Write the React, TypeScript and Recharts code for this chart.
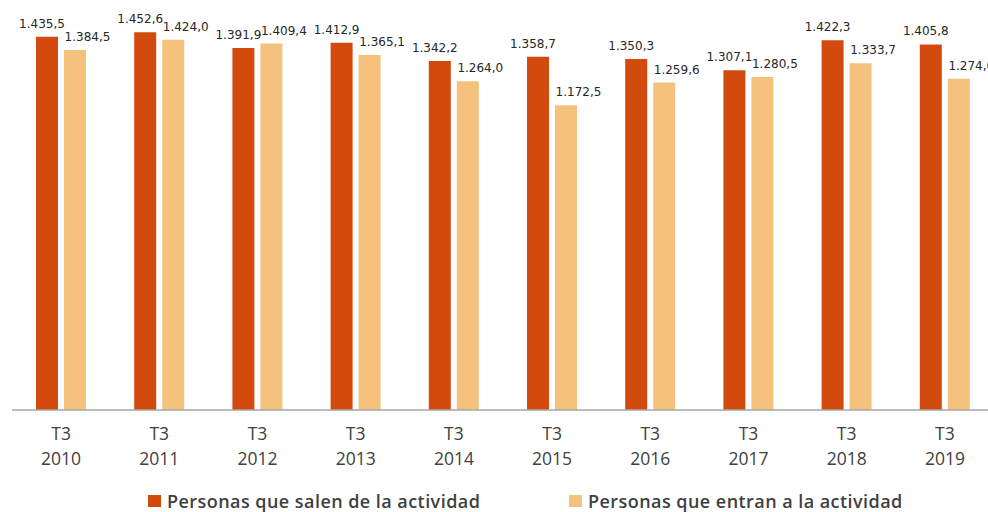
import { BarChart, Bar, XAxis, YAxis, LabelList } from "recharts";

const years = ["2010", "2011", "2012", "2013", "2014", "2015", "2016", "2017", "2018", "2019"];
const quarter = "T3";
const salen = [1435.5, 1452.6, 1391.9, 1412.9, 1342.2, 1358.7, 1350.3, 1307.1, 1422.3, 1405.8];
const entran = [1384.5, 1424.0, 1409.4, 1365.1, 1264.0, 1172.5, 1259.6, 1280.5, 1333.7, 1274.0];

const SALEN_NAME = "Personas que salen de la actividad";
const ENTRAN_NAME = "Personas que entran a la actividad";
const DARK = "#D34A0E";
const LIGHT = "#F4C27D";

const data = years.map((y, i) => ({ year: y, salen: salen[i], entran: entran[i] }));

const fmt = (v: number) =>
    v.toFixed(1).replace(".", ",").replace(/^(\d)(\d{3})/, "$1.$2");

const makeLabel = (shift: number) => (props: any) => {
    const { x, y, width, value } = props;
    return (
        <text
            x={x + width / 2 + shift}
            y={y - 9}
            textAnchor="middle"
            fontFamily="DejaVu Sans"
            fontSize={12}
            fill="#262626"
        >
            {fmt(value)}
        </text>
    );
};

const YearTick = (props: any) => {
    const { x, y, payload } = props;
    return (
        <g>
            <text x={x} y={y + 30} textAnchor="middle" fontFamily="Open Sans" fontSize={17.5} fill="#404040">
                {quarter}
            </text>
            <text x={x} y={y + 55} textAnchor="middle" fontFamily="Open Sans" fontSize={17.5} fill="#404040">
                {payload.value}
            </text>
        </g>
    );
};

function LegendItem({ color, label, left }: { color: string; label: string; left: number }) {
    return (
        <div style={{ position: "absolute", left, top: 490, display: "flex", alignItems: "center" }}>
            <div style={{ width: 13, height: 12, background: color, marginRight: 6 }} />
            <span style={{ fontFamily: "Open Sans", fontSize: 18, fontWeight: 600, letterSpacing: 0.45, color: "#404040", lineHeight: "22px" }}>
                {label}
            </span>
        </div>
    );
}

export default function App() {
    return (
        <div style={{ position: "absolute", left: 0, top: 0, width: 988, height: 512, overflow: "hidden", background: "#fff" }}>
            <BarChart
                width={1000}
                height={512}
                data={data}
                margin={{ top: 20, right: 6, bottom: 0, left: 12 }}
                barSize={22}
                barGap={6}
            >
                <XAxis
                    dataKey="year"
                    height={102}
                    tickLine={false}
                    tickSize={0}
                    tickMargin={0}
                    axisLine={{ stroke: "#A6A6A6", strokeWidth: 1.5 }}
                    tick={<YearTick />}
                    interval={0}
                />
                <YAxis hide domain={[0, 1500]} />
                <Bar dataKey="salen" name={SALEN_NAME} fill={DARK} isAnimationActive={false}>
                    <LabelList dataKey="salen" content={makeLabel(-5)} />
                </Bar>
                <Bar dataKey="entran" name={ENTRAN_NAME} fill={LIGHT} isAnimationActive={false}>
                    <LabelList dataKey="entran" content={makeLabel(12.5)} />
                </Bar>
            </BarChart>
            <LegendItem color={DARK} label={SALEN_NAME} left={148} />
            <LegendItem color={LIGHT} label={ENTRAN_NAME} left={569} />
        </div>
    );
}
